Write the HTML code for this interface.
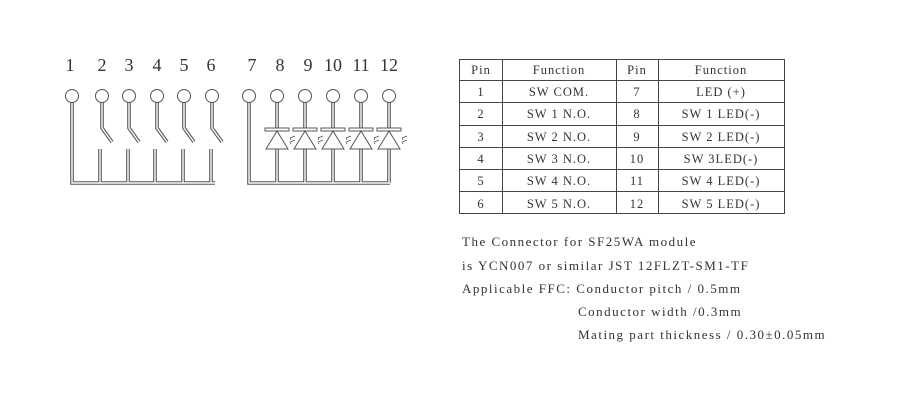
<!DOCTYPE html>
<html><head><meta charset="utf-8"><style>
html,body{margin:0;padding:0;background:#fff;width:900px;height:400px;overflow:hidden}
svg{display:block}
text{font-family:"Liberation Serif",serif;fill:#333}
</style></head><body>
<svg width="900" height="400" viewBox="0 0 900 400" xmlns="http://www.w3.org/2000/svg">
<g font-size="18" text-anchor="middle">
<text x="70" y="71">1</text><text x="102" y="71">2</text><text x="129" y="71">3</text><text x="157" y="71">4</text><text x="184" y="71">5</text><text x="211" y="71">6</text>
<text x="252" y="71">7</text><text x="280" y="71">8</text><text x="308" y="71">9</text><text x="333" y="71">10</text><text x="361" y="71">11</text><text x="389" y="71">12</text>
</g>
<g fill="none" stroke-linejoin="miter">
<g stroke="#555" stroke-width="3.6">
<path d="M72 102V183H215"/>
<path d="M102 102V128L112 142M129 102V128L139 142M157 102V128L167 142M184 102V128L194 142M212 102V128L222 142"/>
<path d="M100 149V183M128 149V183M155 149V183M183 149V183M211 149V183"/>
<path d="M249 102V183H390"/>
<path d="M277 102V129M305 102V129M333 102V129M361 102V129M389 102V129"/>
<path d="M277 149V183M305 149V183M333 149V183M361 149V183M389 149V183"/>
</g>
<g stroke="#fff" stroke-width="1.4">
<path d="M72 102V183H215"/>
<path d="M102 102V128L112 142M129 102V128L139 142M157 102V128L167 142M184 102V128L194 142M212 102V128L222 142"/>
<path d="M100 149V183M128 149V183M155 149V183M183 149V183M211 149V183"/>
<path d="M249 102V183H390"/>
<path d="M277 102V129M305 102V129M333 102V129M361 102V129M389 102V129"/>
<path d="M277 149V183M305 149V183M333 149V183M361 149V183M389 149V183"/>
</g>
</g>
<g fill="#fff" stroke="#555" stroke-width="1">
<circle cx="72" cy="96" r="6.5"/><circle cx="102" cy="96" r="6.5"/><circle cx="129" cy="96" r="6.5"/><circle cx="157" cy="96" r="6.5"/><circle cx="184" cy="96" r="6.5"/><circle cx="212" cy="96" r="6.5"/>
<circle cx="249" cy="96" r="6.5"/><circle cx="277" cy="96" r="6.5"/><circle cx="305" cy="96" r="6.5"/><circle cx="333" cy="96" r="6.5"/><circle cx="361" cy="96" r="6.5"/><circle cx="389" cy="96" r="6.5"/>
</g>
<g fill="#fff" stroke="#555" stroke-width="1">
<g id="d"><rect x="265" y="128" width="24" height="3"/><path d="M277 131L266 149H288Z"/><path d="M290 138l5-2M290 142l5-2M291 140l-1-2M291 144l-1-2" fill="none" stroke-width="0.8"/></g>
<use href="#d" x="28"/><use href="#d" x="56"/><use href="#d" x="84"/><use href="#d" x="112"/>
</g>
<g stroke="#444" fill="none" stroke-width="1">
<rect x="459.5" y="59.5" width="325" height="154"/>
<path d="M502.5 59.5V213.5M616.5 59.5V213.5M658.5 59.5V213.5"/>
<path d="M459.5 80.5H784.5M459.5 102.5H784.5M459.5 125.5H784.5M459.5 147.5H784.5M459.5 169.5H784.5M459.5 191.5H784.5"/>
</g>
<g font-size="12.5" text-anchor="middle" fill="#333" letter-spacing="1">
<text x="481" y="74">Pin</text><text x="559" y="74">Function</text><text x="637" y="74">Pin</text><text x="721" y="74">Function</text>
<text x="481" y="96">1</text><text x="559" y="96">SW COM.</text><text x="637" y="96">7</text><text x="721" y="96">LED (+)</text>
<text x="481" y="118">2</text><text x="559" y="118">SW 1 N.O.</text><text x="637" y="118">8</text><text x="721" y="118">SW 1 LED(-)</text>
<text x="481" y="141">3</text><text x="559" y="141">SW 2 N.O.</text><text x="637" y="141">9</text><text x="721" y="141">SW 2 LED(-)</text>
<text x="481" y="163">4</text><text x="559" y="163">SW 3 N.O.</text><text x="637" y="163">10</text><text x="721" y="163">SW 3LED(-)</text>
<text x="481" y="185">5</text><text x="559" y="185">SW 4 N.O.</text><text x="637" y="185">11</text><text x="721" y="185">SW 4 LED(-)</text>
<text x="481" y="208">6</text><text x="559" y="208">SW 5 N.O.</text><text x="637" y="208">12</text><text x="721" y="208">SW 5 LED(-)</text>
</g>
<g font-size="13" fill="#333" letter-spacing="1.5">
<text x="462" y="246">The Connector for SF25WA module</text>
<text x="462" y="270">is YCN007 or similar JST 12FLZT-SM1-TF</text>
<text x="462" y="293">Applicable FFC: Conductor pitch / 0.5mm</text>
<text x="578" y="316">Conductor width /0.3mm</text>
<text x="578" y="339">Mating part thickness / 0.30±0.05mm</text>
</g>
</svg>
</body></html>
